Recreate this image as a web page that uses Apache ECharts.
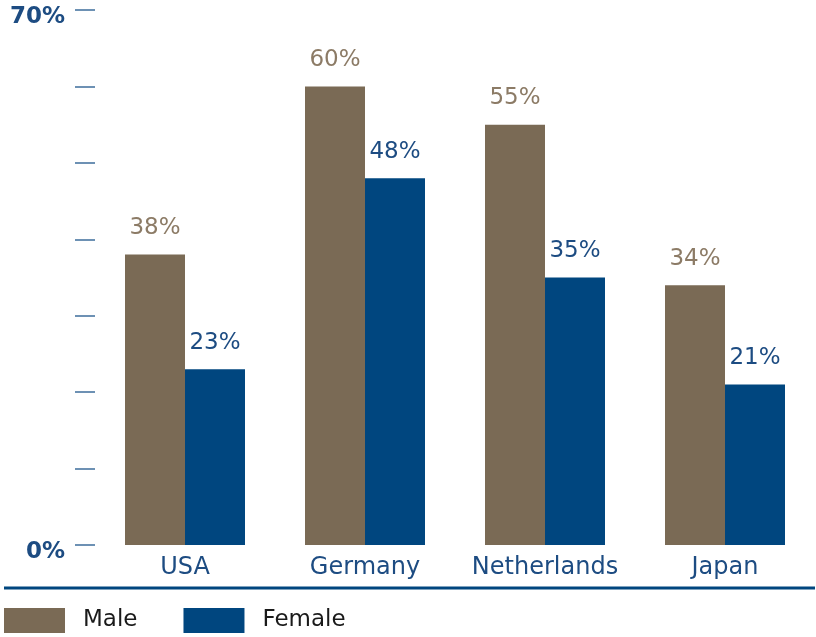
<!DOCTYPE html>
<html>
<head>
<meta charset="utf-8">
<script src="https://cdn.jsdelivr.net/npm/echarts@6/dist/echarts.min.js"></script>
<style>
  html, body { margin: 0; padding: 0; background: #fff; }
  #chart { width: 816px; height: 637px; }
</style>
</head>
<body>
<div id="chart"></div>
<script>
var countries = ['USA', 'Germany', 'Netherlands', 'Japan'];
var male = [38, 60, 55, 34];
var female = [23, 48, 35, 21];
var yTicks = [0, 70];

var FONT = '"DejaVu Sans", "Noto Sans", sans-serif';
var myChart = echarts.init(document.getElementById('chart'));

var option = {
  animation: false,
  grid: {
    left: 95,
    right: 1,
    top: 10,
    bottom: 92
  },
  legend: {
    data: ['Male', 'Female'],
    left: 4,
    top: 608,
    padding: 0,
    itemWidth: 61,
    itemHeight: 25,
    itemGap: 46,
    icon: 'rect',
    textStyle: {
      fontFamily: FONT,
      fontSize: 23,
      color: '#1a1a1a',
      padding: [2, 0, 0, 13]
    }
  },
  xAxis: {
    type: 'category',
    data: countries,
    axisLine: { show: false },
    axisTick: { show: false },
    axisLabel: {
      interval: 0,
      margin: 11,
      fontFamily: FONT,
      fontSize: 24,
      color: '#1d4c82'
    }
  },
  yAxis: {
    type: 'value',
    min: 0,
    max: 70,
    interval: 10,
    splitLine: { show: false },
    axisLine: { show: false },
    axisTick: {
      show: true,
      length: 20,
      lineStyle: { color: '#3e6d9c', width: 1.5 }
    },
    axisLabel: {
      margin: 30,
      fontFamily: FONT,
      fontSize: 23,
      fontWeight: 'bold',
      color: '#1d4c82',
      verticalAlign: 'top',
      lineHeight: 15,
      formatter: function (v) {
        return yTicks.indexOf(v) >= 0 ? v + '%' : '';
      }
    }
  },
  graphic: [{
    type: 'line',
    shape: { x1: 4, y1: 588, x2: 815, y2: 588 },
    style: { stroke: '#00467f', lineWidth: 3 }
  }],
  series: [
    {
      name: 'Male',
      type: 'bar',
      data: male,
      barWidth: 60,
      barGap: '0%',
      itemStyle: { color: '#7a6a55' },
      label: {
        show: true,
        position: 'top',
        distance: 15,
        formatter: '{c}%',
        fontFamily: FONT,
        fontSize: 23,
        color: '#8c7b66'
      }
    },
    {
      name: 'Female',
      type: 'bar',
      data: female,
      barWidth: 60,
      barGap: '0%',
      itemStyle: { color: '#00467f' },
      label: {
        show: true,
        position: 'top',
        distance: 15,
        formatter: '{c}%',
        fontFamily: FONT,
        fontSize: 23,
        color: '#1d4c82'
      }
    }
  ]
};
myChart.setOption(option);
</script>
</body>
</html>
